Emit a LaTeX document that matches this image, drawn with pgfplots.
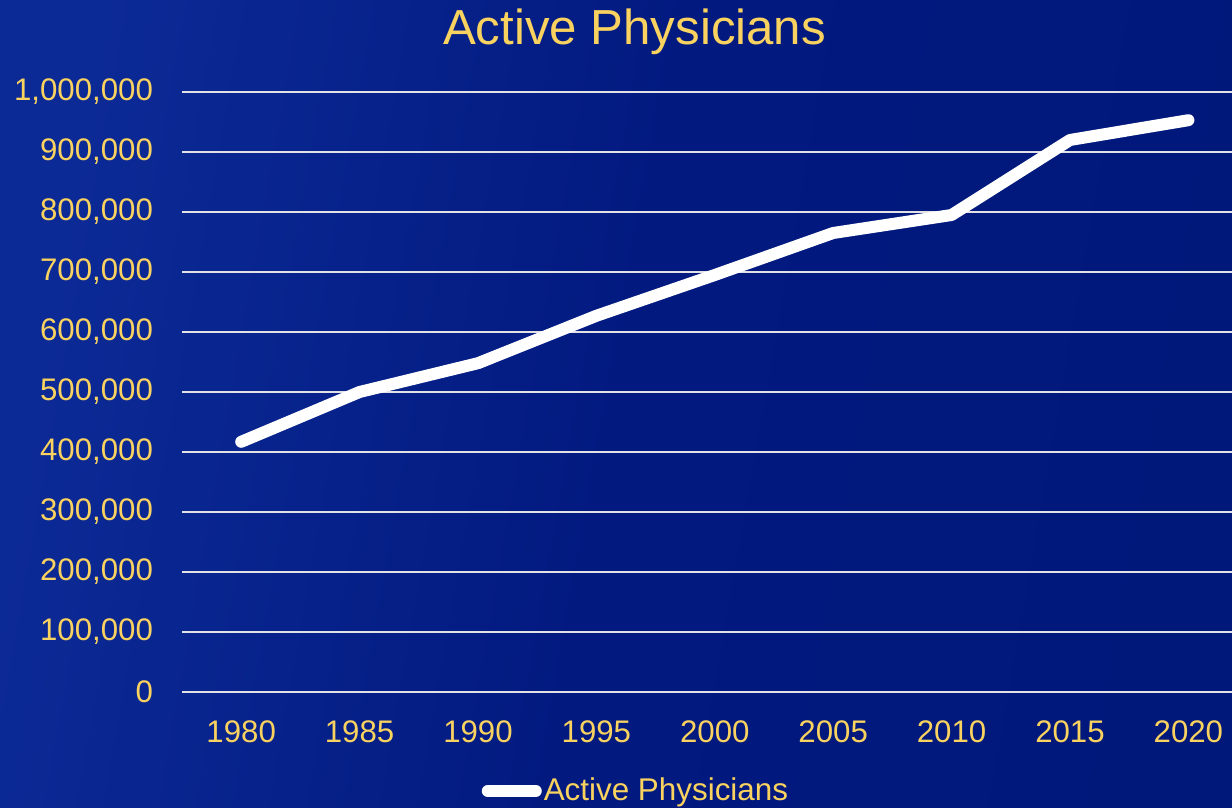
\documentclass[border=0pt]{standalone}
\usepackage{pgfplots}
\pgfplotsset{compat=1.18}
\usepackage{fontspec}
\setmainfont{Liberation Sans}
\definecolor{bgA}{RGB}{12,42,150}
\definecolor{bgB}{RGB}{2,26,128}
\definecolor{bgC}{RGB}{0,24,122}
\definecolor{ytext}{RGB}{250,210,95}
\definecolor{gridc}{RGB}{225,225,230}
\begin{document}
\begin{tikzpicture}
\shade[left color=bgA, right color=bgC, middle color=bgB, shading angle=80] (0,0) rectangle (616pt,404pt);
\begin{axis}[
  at={(91pt,58pt)}, anchor=south west,
  scale only axis, width=532.8pt, height=300pt,
  xmin=-0.5, xmax=8.5, ymin=0, ymax=1000000,
  xtick={0,...,8},
  xticklabels={1980,1985,1990,1995,2000,2005,2010,2015,2020},
  ytick={0,100000,...,1000000},
  scaled y ticks=false,
  yticklabel style={xshift=-11pt},
  /pgf/number format/.cd, fixed, 1000 sep={,}, assume math mode=true,
  /pgfplots/.cd,
  tick label style={font=\fontsize{15.6pt}{18pt}\selectfont, text=ytext},
  ytick style={draw=none}, xtick style={draw=none},
  xticklabel style={yshift=-11pt},
  axis line style={draw=none},
  ymajorgrids, grid style={gridc, line width=1pt},
  title={Active Physicians},
  title style={at={(0.4247,1)}, anchor=base, yshift=17.5pt, font=\fontsize{24.6pt}{28pt}\selectfont, text=ytext},
  legend style={at={(0.426,-0.165)}, anchor=center, draw=none, fill=none,
    font=\fontsize{15.7pt}{18pt}\selectfont, text=ytext, inner sep=0pt,
    nodes={inner sep=1pt}},
  legend image code/.code={\draw[#1, line cap=round] (0pt,0pt) -- (24pt,0pt);},
  clip=false,
]
\addplot[white, line width=6pt, line join=round, line cap=round] coordinates {
(0,417000) (1,500000) (2,548000) (3,627000) (4,695000) (5,765000) (6,795000) (7,920000) (8,953000)};
\addlegendentry{Active Physicians}
\end{axis}
\pgfresetboundingbox
\path (0,0) rectangle (616pt,404pt);
\end{tikzpicture}
\end{document}
